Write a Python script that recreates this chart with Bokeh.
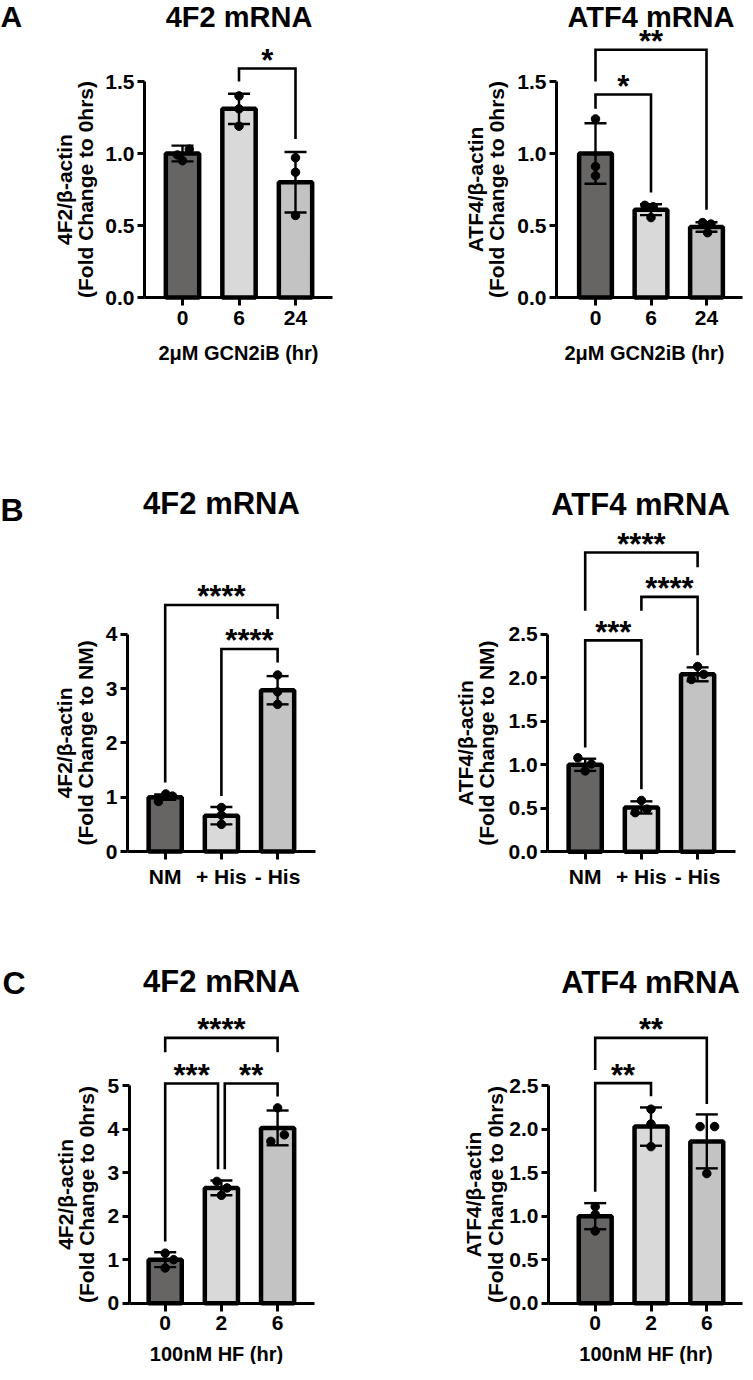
import math
from bokeh.plotting import figure
from bokeh.models import FixedTicker, Range1d
from bokeh.layouts import row, column
from bokeh.embed import file_html
from bokeh.resources import INLINE
from bokeh.core.properties import value

FONT = "Liberation Sans"
BAR_COLORS = ["#676464", "#d9d9d9", "#c3c3c3"]

# ---------------- data ----------------
# Panel A : GCN2iB time course
A_cats = ["0", "6", "24"]
A_xlabel = "2μM GCN2iB (hr)"
A_yticks = [0, 0.5, 1.0, 1.5]
A_ytick_labels = ["0.0", "0.5", "1.0", "1.5"]

A_4F2_mean = [1.00, 1.31, 0.80]
A_4F2_sd = [0.055, 0.105, 0.21]
A_4F2_pts = [[0.99, 1.03, 0.95], [1.40, 1.31, 1.19], [0.97, 0.87, 0.57]]
A_4F2_sig = [(1, 2, 1.59, 1.50, 1.10, "*")]

A_ATF4_mean = [1.00, 0.61, 0.49]
A_ATF4_sd = [0.21, 0.038, 0.033]
A_ATF4_pts = [[1.24, 0.91, 0.845], [0.64, 0.63, 0.555], [0.52, 0.51, 0.45]]
A_ATF4_sig = [(0, 1, 1.41, 1.31, 0.73, "*"), (0, 2, 1.72, 1.50, 0.61, "**")]

# Panel B : histidine
B_cats = ["NM", "+ His", "- His"]
B_4F2_yticks = [0, 1, 2, 3, 4]
B_4F2_ytick_labels = ["0", "1", "2", "3", "4"]
B_4F2_mean = [1.00, 0.66, 2.97]
B_4F2_sd = [0.05, 0.16, 0.26]
B_4F2_pts = [[0.92, 1.06, 1.02], [0.81, 0.67, 0.50], [3.25, 2.94, 2.71]]
B_4F2_sig = [(1, 2, 3.73, 1.02, 3.48, "****"), (0, 2, 4.54, 1.27, 4.28, "****")]

B_ATF4_yticks = [0, 0.5, 1.0, 1.5, 2.0, 2.5]
B_ATF4_ytick_labels = ["0.0", "0.5", "1.0", "1.5", "2.0", "2.5"]
B_ATF4_mean = [1.00, 0.51, 2.04]
B_ATF4_sd = [0.07, 0.07, 0.08]
B_ATF4_pts = [[1.08, 1.01, 0.93], [0.59, 0.45, 0.49], [2.13, 1.98, 2.04]]
B_ATF4_sig = [(0, 1, 2.43, 1.20, 0.72, "***"), (1, 2, 2.93, 2.77, 2.26, "****"),
              (0, 2, 3.44, 2.77, 3.27, "****")]

# Panel C : halofuginone
C_cats = ["0", "2", "6"]
C_xlabel = "100nM HF (hr)"
C_4F2_yticks = [0, 1, 2, 3, 4, 5]
C_4F2_ytick_labels = ["0", "1", "2", "3", "4", "5"]
C_4F2_mean = [1.00, 2.65, 4.03]
C_4F2_sd = [0.17, 0.17, 0.40]
C_4F2_pts = [[1.15, 1.00, 0.81], [2.80, 2.65, 2.48], [4.49, 3.87, 3.72]]
C_4F2_sig = [(0, 1, 5.05, 1.42, 3.08, "***"), (1, 2, 5.05, 3.08, 4.75, "**"),
             (0, 2, 6.10, 5.77, 5.77, "****")]

C_ATF4_yticks = [0, 0.5, 1.0, 1.5, 2.0, 2.5]
C_ATF4_ytick_labels = ["0.0", "0.5", "1.0", "1.5", "2.0", "2.5"]
C_ATF4_mean = [1.00, 2.03, 1.86]
C_ATF4_sd = [0.15, 0.22, 0.31]
C_ATF4_pts = [[1.11, 1.02, 0.83], [2.23, 2.06, 1.80], [2.03, 2.03, 1.49]]
C_ATF4_sig = [(0, 1, 2.53, 1.28, 2.38, "**"), (0, 2, 3.05, 2.68, 2.29, "**")]

# ---------------- styling (point scatter, bracket leg nudges) ----------------
A_4F2_jit = [[-0.09, 0.12, 0], [0, 0, 0], [0, 0, 0]]
A_ATF4_jit = [[0, 0, 0], [-0.11, 0.04, 0], [-0.07, 0.08, 0.02]]
B_4F2_jit = [[-0.12, 0.01, 0.13], [0, 0, 0], [0, 0, 0]]
B_ATF4_jit = [[-0.13, 0.11, 0], [0, -0.11, 0.10], [0, -0.11, 0.11]]
C_4F2_jit = [[0, 0.15, 0], [-0.08, 0.10, 0], [0, 0.12, -0.12]]
C_ATF4_jit = [[0, 0, 0], [0, 0, 0], [-0.12, 0.14, 0]]
C_4F2_legdx = [(0, -0.06), (0.06, 0), (0, 0)]

# layout geometry, in reference-pixel space
# fx, fy: figure origin; ax/ae: x-axis start/end; c0/st: first bar centre / bar pitch;
# y0: pixel of value 0; ppu: pixels per unit; t: title centre + size; yl: y-title line 2 centre x;
# xt: x-title centre; letter: (text, left x, centre y, size)
GEOM = {
    "A1": dict(fx=8, fy=8, w=372, h=420, ax=152, ae=340, c0=190, st=56.5, y0=305, ppu=144,
               t=(246.5, 24, "29px"), yl=93, xt=(246, 360), letter=("A", 8, 24, "30px")),
    "A2": dict(fx=380, fy=8, w=373, h=420, ax=564, ae=750, c0=603, st=55.5, y0=305, ppu=144,
               t=(658.5, 24, "29px"), yl=504, xt=(652, 360), letter=None),
    "B1": dict(fx=8, fy=428, w=372, h=478, ax=135, ae=322.7, c0=172.7, st=56.2, y0=859, ppu=54.3,
               t=(229, 511, "31px"), yl=93, xt=None, letter=("B", 8, 517, "32px")),
    "B2": dict(fx=380, fy=428, w=373, h=478, ax=555.3, ae=742.7, c0=592.7, st=56.2, y0=859.3, ppu=87,
               t=(648, 512, "31px"), yl=494, xt=None, letter=None),
    "C1": dict(fx=8, fy=912, w=372, h=466, ax=136.7, ae=321.7, c0=172.7, st=56.2, y0=1316.7, ppu=43.5,
               t=(229, 995, "31px"), yl=94, xt=(224, 1367), letter=("C", 10, 996, "32px")),
    "C2": dict(fx=380, fy=912, w=373, h=466, ax=556, ae=750, c0=602.7, st=55.8, y0=1316.7, ppu=87,
               t=(658, 996, "31px"), yl=502.5, xt=(653.5, 1367), letter=None),
}


def panel(g, cats, mean, sd, pts, jit, sig, yticks, ylabels, ylabel, xlabel, title, legdx=None):
    X = lambda px: (px - g["c0"]) / g["st"]
    Y = lambda py: (g["y0"] - py) / g["ppu"]
    p = figure(width=g["w"], height=g["h"],
               x_range=Range1d(X(g["fx"]), X(g["fx"] + g["w"])),
               y_range=Range1d(Y(g["fy"] + g["h"]), Y(g["fy"])),
               min_border=0, min_border_left=0, min_border_right=0,
               min_border_top=0, min_border_bottom=0,
               toolbar_location=None, tools="", output_backend="svg")
    p.outline_line_color = None
    p.xgrid.visible = False
    p.ygrid.visible = False
    p.background_fill_color = "white"
    p.border_fill_color = "white"

    def txt(x, y, s, size, align="center", baseline="middle", angle=0.0, yoff=0):
        p.text(x=[x], y=[y], text=[s], text_align=align, text_baseline=baseline,
               angle=angle, y_offset=yoff, text_font=value(FONT), text_font_style="bold",
               text_font_size=size, text_color="black")

    idx = list(range(len(cats)))
    p.vbar(x=idx, top=mean, bottom=0, width=0.59, fill_color=BAR_COLORS,
           line_color="black", line_width=4.5)

    cw = 11.0 / g["st"]
    lo = [m - s for m, s in zip(mean, sd)]
    hi = [m + s for m, s in zip(mean, sd)]
    p.segment(x0=idx, y0=lo, x1=idx, y1=hi, line_color="black", line_width=2.4)
    p.segment(x0=[i - cw for i in idx], y0=hi, x1=[i + cw for i in idx], y1=hi,
              line_color="black", line_width=2.4)
    p.segment(x0=[i - cw for i in idx], y0=lo, x1=[i + cw for i in idx], y1=lo,
              line_color="black", line_width=2.4)

    px, py = [], []
    for i in idx:
        for k, v in enumerate(pts[i]):
            px.append(i + jit[i][k])
            py.append(v)
    p.scatter(px, py, size=8.5, color="black")

    bx, by, sx, sy, st = [], [], [], [], []
    for n, (i, j, hgt, bl, br, s) in enumerate(sig):
        dx = legdx[n] if legdx else (0, 0)
        xi, xj = i + dx[0], j + dx[1]
        bx.append([xi, xi, xj, xj])
        by.append([bl, hgt, hgt, br])
        sx.append((xi + xj) / 2)
        sy.append(hgt)
        st.append(s)
    p.multi_line(bx, by, line_color="black", line_width=2.6, line_join="miter")
    p.text(x=sx, y=sy, text=st, text_align="center", text_baseline="alphabetic",
           y_offset=-8, text_font=value(FONT), text_font_style="bold",
           text_font_size="31px", text_color="black")

    for ax in p.axis:
        ax.axis_line_width = 3
        ax.axis_line_color = "black"
        ax.major_tick_line_width = 3
        ax.major_tick_line_color = "black"
        ax.major_tick_in = 0
        ax.minor_tick_line_color = None
        ax.major_label_text_font = FONT
        ax.major_label_text_font_style = "bold"
        ax.major_label_text_font_size = "21px"
        ax.major_label_text_color = "black"

    p.xaxis.fixed_location = 0
    p.xaxis.bounds = (X(g["ax"]), X(g["ae"]))
    p.xaxis.ticker = FixedTicker(ticks=idx)
    p.xaxis.major_label_overrides = {i: c for i, c in zip(idx, cats)}
    p.xaxis.major_tick_out = 8
    p.xaxis.major_label_standoff = 5

    p.yaxis.fixed_location = X(g["ax"])
    p.yaxis.bounds = (0, yticks[-1])
    p.yaxis.ticker = FixedTicker(ticks=yticks)
    p.yaxis.major_label_overrides = {t: l for t, l in zip(yticks, ylabels)}
    p.yaxis.major_tick_out = 7
    p.yaxis.major_label_standoff = 3

    # y-axis title (two centred lines, rotated)
    ymid = yticks[-1] / 2.0
    l1, l2 = ylabel
    txt(X(g["yl"] - 21.5), ymid, l1, "21px", angle=math.pi / 2)
    txt(X(g["yl"]), ymid, l2, "21px", angle=math.pi / 2)
    if xlabel and g["xt"]:
        txt(X(g["xt"][0]), Y(g["xt"][1]), xlabel, "20px")
    tx, ty, tsize = g["t"]
    txt(X(tx), Y(ty), title, tsize)
    if g["letter"]:
        L, lx, ly, lsize = g["letter"]
        txt(X(lx), Y(ly), L, lsize, align="left")
    return p


pA1 = panel(GEOM["A1"], A_cats, A_4F2_mean, A_4F2_sd, A_4F2_pts, A_4F2_jit, A_4F2_sig,
            A_yticks, A_ytick_labels, ("4F2/β-actin", "(Fold Change to 0hrs)"), A_xlabel, "4F2 mRNA")
pA2 = panel(GEOM["A2"], A_cats, A_ATF4_mean, A_ATF4_sd, A_ATF4_pts, A_ATF4_jit, A_ATF4_sig,
            A_yticks, A_ytick_labels, ("ATF4/β-actin", "(Fold Change to 0hrs)"), A_xlabel, "ATF4 mRNA")
pB1 = panel(GEOM["B1"], B_cats, B_4F2_mean, B_4F2_sd, B_4F2_pts, B_4F2_jit, B_4F2_sig,
            B_4F2_yticks, B_4F2_ytick_labels, ("4F2/β-actin", "(Fold Change to NM)"), None, "4F2 mRNA")
pB2 = panel(GEOM["B2"], B_cats, B_ATF4_mean, B_ATF4_sd, B_ATF4_pts, B_ATF4_jit, B_ATF4_sig,
            B_ATF4_yticks, B_ATF4_ytick_labels, ("ATF4/β-actin", "(Fold Change to NM)"), None, "ATF4 mRNA")
pC1 = panel(GEOM["C1"], C_cats, C_4F2_mean, C_4F2_sd, C_4F2_pts, C_4F2_jit, C_4F2_sig,
            C_4F2_yticks, C_4F2_ytick_labels, ("4F2/β-actin", "(Fold Change to 0hrs)"), C_xlabel, "4F2 mRNA",
            legdx=C_4F2_legdx)
pC2 = panel(GEOM["C2"], C_cats, C_ATF4_mean, C_ATF4_sd, C_ATF4_pts, C_ATF4_jit, C_ATF4_sig,
            C_ATF4_yticks, C_ATF4_ytick_labels, ("ATF4/β-actin", "(Fold Change to 0hrs)"), C_xlabel, "ATF4 mRNA")

layout = column(row(pA1, pA2), row(pB1, pB2), row(pC1, pC2))
open("out.html", "w").write(file_html(layout, INLINE))
